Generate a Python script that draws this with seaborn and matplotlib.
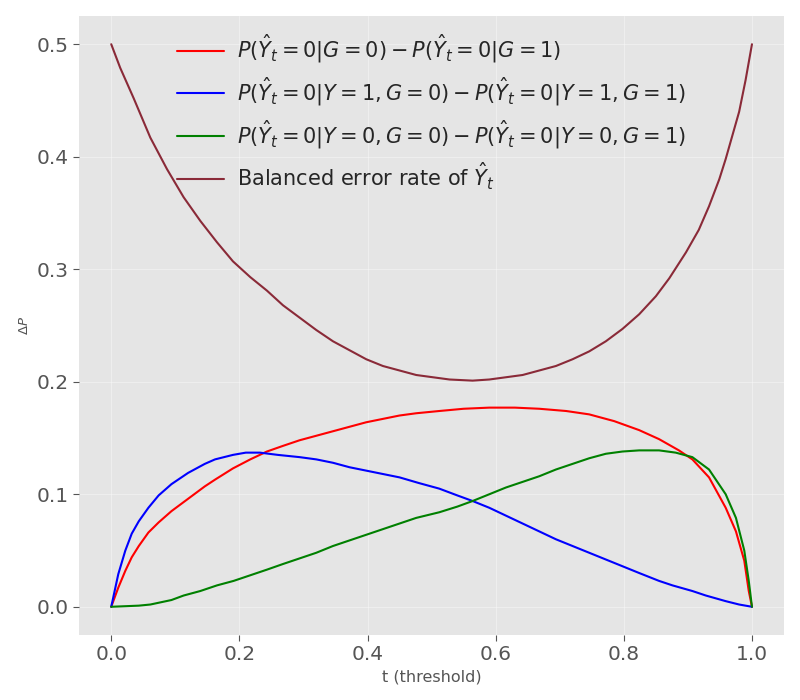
import numpy as np
import pandas as pd
import matplotlib
matplotlib.use("Agg")
import matplotlib.pyplot as plt
import seaborn as sns

# Valores
t_ber = [0.0, 0.014, 0.035, 0.061, 0.087, 0.113, 0.139, 0.165, 0.190, 0.217, 0.243,
         0.268, 0.294, 0.320, 0.346, 0.372, 0.398, 0.424, 0.450, 0.476, 0.502, 0.528,
         0.564, 0.590, 0.616, 0.642, 0.668, 0.694, 0.720, 0.746, 0.772, 0.798, 0.824,
         0.850, 0.871, 0.897, 0.917, 0.933, 0.949, 0.959, 0.969, 0.980, 0.990, 1.0]
ber = [0.500, 0.479, 0.452, 0.417, 0.389, 0.364, 0.343, 0.324, 0.307, 0.293, 0.281,
       0.268, 0.257, 0.246, 0.236, 0.228, 0.220, 0.214, 0.210, 0.206, 0.204, 0.202,
       0.201, 0.202, 0.204, 0.206, 0.210, 0.214, 0.220, 0.227, 0.236, 0.247, 0.260,
       0.276, 0.292, 0.315, 0.335, 0.356, 0.380, 0.398, 0.418, 0.440, 0.468, 0.500]

t_g = [0.0, 0.011, 0.022, 0.032, 0.043, 0.058, 0.074, 0.094, 0.120, 0.146, 0.162,
       0.190, 0.217, 0.243, 0.268, 0.294, 0.320, 0.346, 0.372, 0.398, 0.424, 0.450,
       0.476, 0.512, 0.550, 0.590, 0.630, 0.668, 0.710, 0.746, 0.785, 0.824, 0.855,
       0.886, 0.907, 0.933, 0.959, 0.975, 0.988, 0.995, 1.0]
dp_g = [0.0, 0.017, 0.032, 0.044, 0.054, 0.066, 0.075, 0.085, 0.096, 0.107, 0.113,
        0.123, 0.131, 0.138, 0.143, 0.148, 0.152, 0.156, 0.160, 0.164, 0.167, 0.170,
        0.172, 0.174, 0.176, 0.177, 0.177, 0.176, 0.174, 0.171, 0.165, 0.157, 0.149,
        0.139, 0.131, 0.115, 0.088, 0.067, 0.041, 0.014, 0.0]

t_y1 = [0.0, 0.011, 0.022, 0.032, 0.043, 0.058, 0.074, 0.094, 0.120, 0.146, 0.162,
        0.190, 0.210, 0.232, 0.260, 0.294, 0.320, 0.346, 0.372, 0.398, 0.424, 0.450,
        0.480, 0.512, 0.540, 0.564, 0.590, 0.616, 0.642, 0.668, 0.694, 0.720, 0.746,
        0.772, 0.798, 0.824, 0.855, 0.876, 0.907, 0.928, 0.959, 0.980, 1.0]
dp_y1 = [0.0, 0.029, 0.050, 0.065, 0.076, 0.088, 0.099, 0.109, 0.119, 0.127, 0.131,
         0.135, 0.137, 0.137, 0.135, 0.133, 0.131, 0.128, 0.124, 0.121, 0.118, 0.115,
         0.110, 0.105, 0.099, 0.094, 0.088, 0.081, 0.074, 0.067, 0.060, 0.054, 0.048,
         0.042, 0.036, 0.030, 0.023, 0.019, 0.014, 0.010, 0.005, 0.002, 0.0]

t_y0 = [0.0, 0.043, 0.061, 0.094, 0.113, 0.139, 0.165, 0.191, 0.217, 0.243, 0.268,
        0.294, 0.320, 0.346, 0.372, 0.398, 0.424, 0.450, 0.476, 0.512, 0.540, 0.564,
        0.590, 0.616, 0.642, 0.668, 0.694, 0.720, 0.746, 0.772, 0.798, 0.824, 0.855,
        0.881, 0.907, 0.933, 0.959, 0.975, 0.988, 0.995, 1.0]
dp_y0 = [0.0, 0.001, 0.002, 0.006, 0.010, 0.014, 0.019, 0.023, 0.028, 0.033, 0.038,
         0.043, 0.048, 0.054, 0.059, 0.064, 0.069, 0.074, 0.079, 0.084, 0.089, 0.094,
         0.100, 0.106, 0.111, 0.116, 0.122, 0.127, 0.132, 0.136, 0.138, 0.139, 0.139,
         0.137, 0.133, 0.122, 0.100, 0.079, 0.050, 0.023, 0.0]

labels = [r"$P(\hat{Y}_t=0|G=0)-P(\hat{Y}_t=0|G=1)$",
          r"$P(\hat{Y}_t=0|Y=1,G=0)-P(\hat{Y}_t=0|Y=1,G=1)$",
          r"$P(\hat{Y}_t=0|Y=0,G=0)-P(\hat{Y}_t=0|Y=0,G=1)$",
          r"Balanced error rate of $\hat{Y}_t$"]

sns.set_style("darkgrid", {"axes.facecolor": "#E5E5E5", "grid.color": "#F4F4F4",
                           "xtick.bottom": True, "ytick.left": True})
plt.rcParams["font.family"] = ["DejaVu Sans"]

fig, ax = plt.subplots(figsize=(8, 7), dpi=100)
fig.subplots_adjust(left=0.099, right=0.98, bottom=0.093, top=0.977)

sns.lineplot(x=t_g, y=dp_g, color="red", lw=1.5, label=labels[0], ax=ax)
sns.lineplot(x=t_y1, y=dp_y1, color="blue", lw=1.5, label=labels[1], ax=ax)
sns.lineplot(x=t_y0, y=dp_y0, color="green", lw=1.5, label=labels[2], ax=ax)
sns.lineplot(x=t_ber, y=ber, color="#8a2a38", lw=1.5, label=labels[3], ax=ax)

ax.set_xlabel("t (threshold)", fontsize=11.5, color="#555555")
ax.set_ylabel(r"$\Delta P$", fontsize=9.5, color="#555555")
ax.tick_params(labelsize=14.5, colors="#555555", length=4, width=0.8)
ax.set_xticks([0.0, 0.2, 0.4, 0.6, 0.8, 1.0])
ax.set_yticks([0.0, 0.1, 0.2, 0.3, 0.4, 0.5])
ax.grid(True, color="white", linewidth=0.8, alpha=0.35)
for s in ax.spines.values():
    s.set_visible(False)

ax.legend(loc="upper center", frameon=False, fontsize=15, handlelength=2.25,
          handletextpad=0.6, labelspacing=0.48, borderaxespad=0.4)

fig.savefig("out.png", dpi=100)
